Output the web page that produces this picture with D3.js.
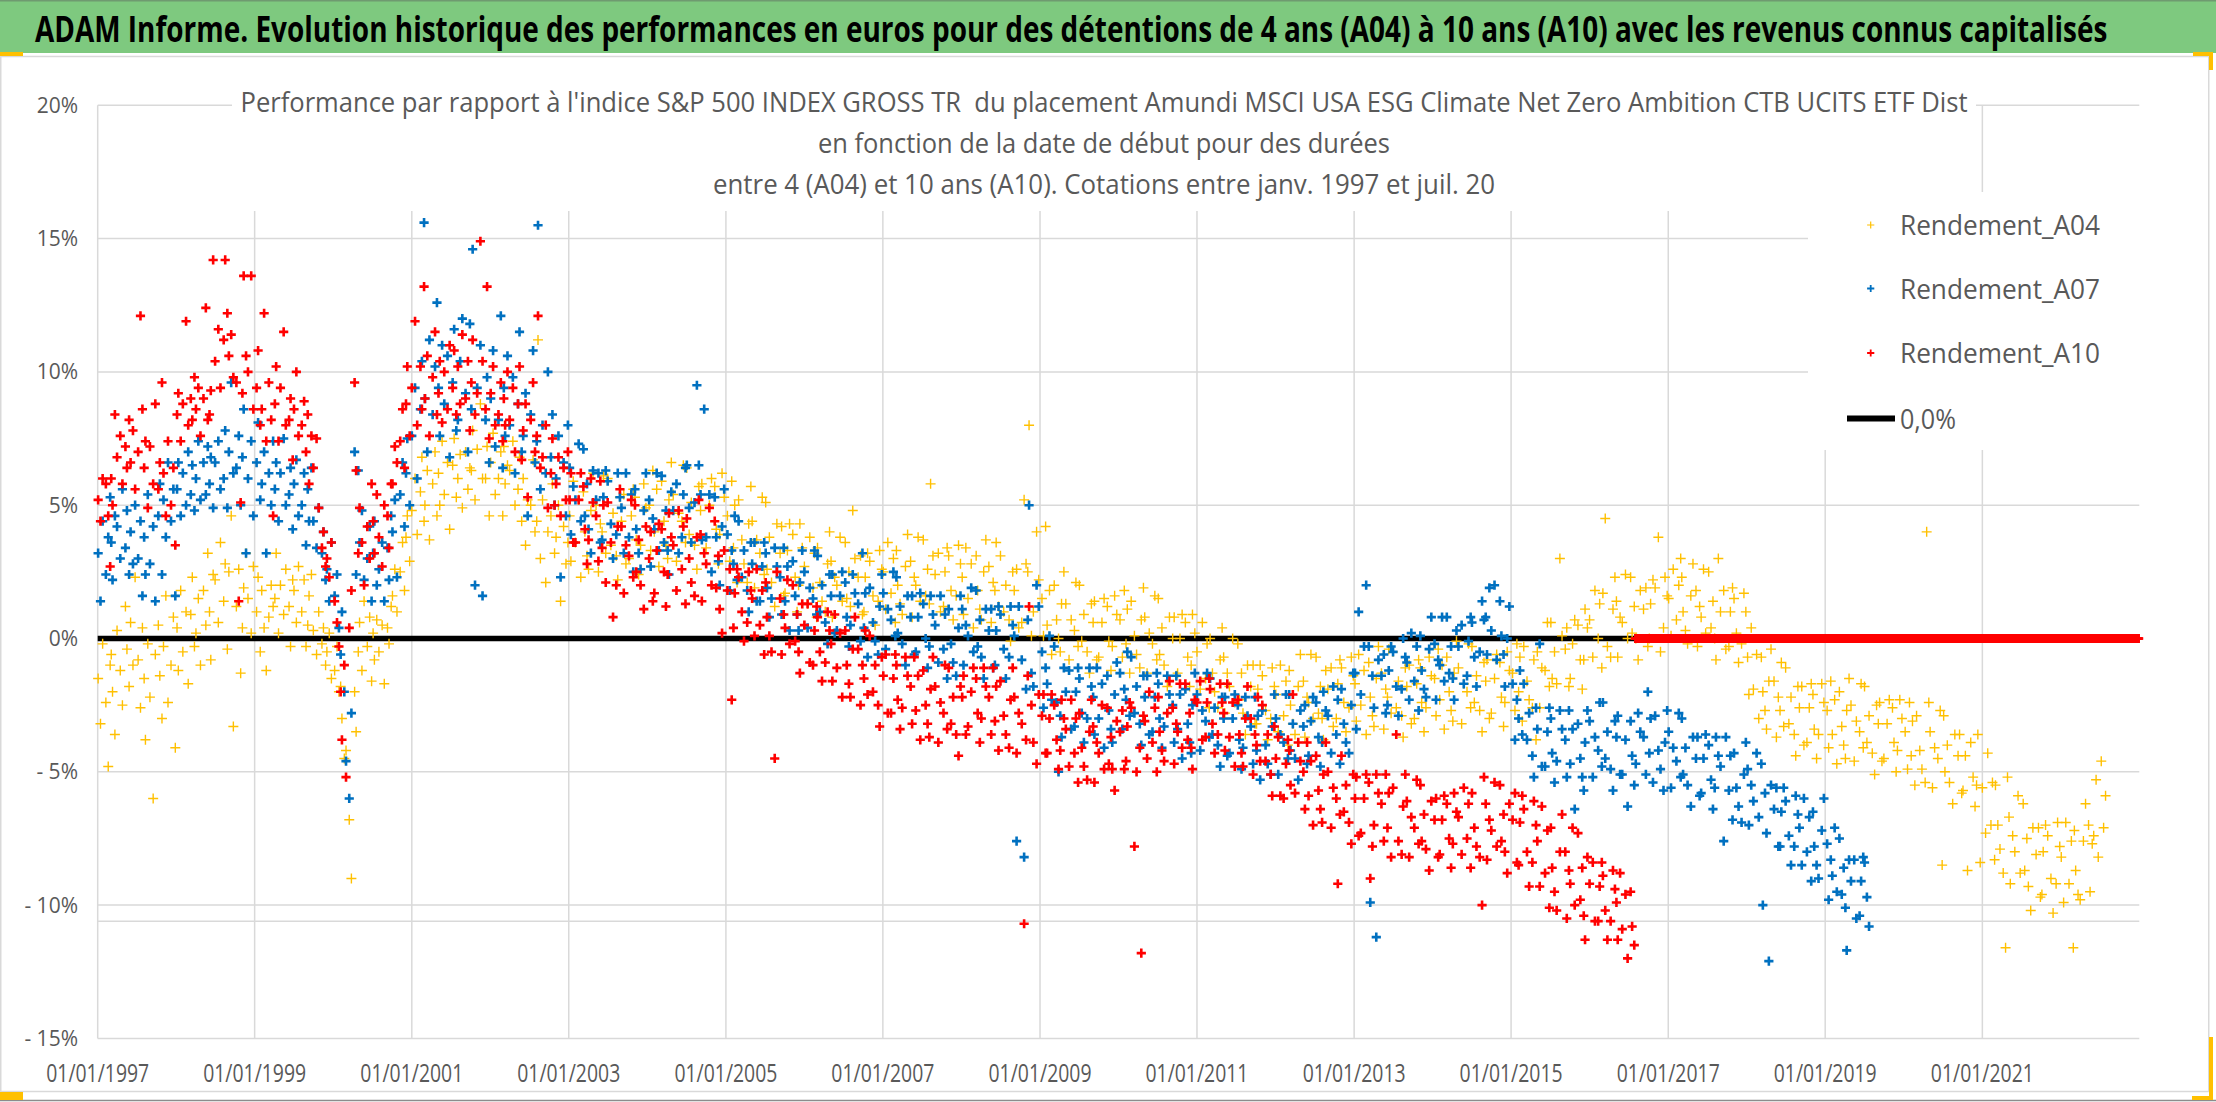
<!DOCTYPE html>
<html><head><meta charset="utf-8">
<script src="https://cdn.jsdelivr.net/npm/d3@7/dist/d3.min.js"></script>
<style>
body{margin:0;background:#fff;}
svg{display:block;}
text{font-family:"Open Sans","Liberation Sans",sans-serif;}
</style></head>
<body><svg id="chart" width="2216" height="1102"></svg>
<script>
// ---------------- DATA ----------------
const titleText = "ADAM Informe. Evolution historique des performances en euros pour des détentions de 4 ans (A04) à 10 ans (A10) avec les revenus connus capitalisés";
const subtitleLines = [
  "Performance par rapport à l'indice S&P 500 INDEX GROSS TR  du placement Amundi MSCI USA ESG Climate Net Zero Ambition CTB UCITS ETF Dist",
  "en fonction de la date de début pour des durées",
  "entre 4 (A04) et 10 ans (A10). Cotations entre janv. 1997 et juil. 20"
];
const seriesNames = ["Rendement_A04", "Rendement_A07", "Rendement_A10"];
const zeroLineName = "0,0%";
const xTickYears = [1997, 1999, 2001, 2003, 2005, 2007, 2009, 2011, 2013, 2015, 2017, 2019, 2021];
const yTickValues = [-15, -10, -5, 0, 5, 10, 15, 20];
const xDomain = ["1997-01-01", "2023-01-01"];
const axisCrossValue = -10.61;
const firstYear = 1997; // every series starts in Jan 1997, three readings per month (%)
const readingDays = [[3, 14, 24], [8, 19, 28], [5, 11, 22], [1, 16, 26], [10, 17, 27]];

const a04 = [
[-1.5,-3.2,-0.2],[-2.4,-4.8,-1.0],[-0.6,-2.0,-3.6],[0.3,-1.2,-2.5],[1.2,-0.4,-1.8],[0.6,-1.0,2.3],[-0.8,-2.6,0.4],[-1.5,-3.8,-0.2],[-2.2,-6.0,-0.6],[0.5,-1.4,-3.0],[-0.3,1.6,-2.4],[-1.0,0.8,-4.1],
[0.4,-1.2,1.8],[-0.5,1.0,-1.7],[0.9,2.3,-0.3],[0.2,1.5,-1.0],[1.8,0.5,3.2],[1.0,-0.8,2.4],[2.2,0.6,3.6],[1.4,2.8,-0.4],[2.5,4.6,-3.3],[1.2,2.6,-1.3],[0.4,1.9,3.2],[1.5,0.2,2.7],
[1.0,2.3,-0.5],[1.8,0.4,-1.2],[0.8,2.0,1.2],[1.5,3.2,0.2],[2.0,0.9,2.6],[1.2,-0.3,2.2],[1.8,0.6,2.7],[1.0,2.2,-0.3],[0.5,1.6,2.4],[0.3,-0.6,1.0],[-0.2,0.4,-1.0],[-0.5,0.2,-1.5],
[-1.2,-0.3,-2.0],[-1.8,-3.0,-4.5],[-4.2,-6.8,-9.0],[-2.0,-3.5,-0.5],[0.6,-1.2,1.4],[-0.3,0.8,-1.6],[0.2,-0.8,0.7],[-0.5,0.5,-1.7],[0.4,-0.2,1.2],[1.6,2.6,1.0],[2.5,3.6,1.8],[3.8,4.6,2.9],
[4.8,6.0,3.9],[5.5,6.8,4.4],[5.0,6.3,3.7],[5.8,7.0,4.6],[6.2,5.0,7.4],[5.4,6.6,4.1],[6.5,7.5,5.3],[6.0,6.9,4.9],[7.0,5.6,6.4],[6.3,7.8,5.2],[7.1,8.8,6.0],[6.0,7.2,4.6],
[6.6,7.7,5.4],[6.0,7.0,4.6],[7.2,5.8,6.5],[6.3,7.4,5.0],[5.6,6.8,4.4],[6.0,3.5,5.2],[5.0,6.7,4.0],[4.4,11.2,3.0],[5.2,2.1,4.0],[4.6,5.8,3.2],[3.8,5.0,1.4],[4.2,2.8,3.6],
[4.6,2.9,5.9],[3.6,5.2,2.3],[5.5,4.0,3.1],[2.6,4.8,6.2],[5.0,2.5,4.3],[4.0,6.1,3.2],[6.0,3.5,4.7],[3.1,2.2,5.3],[4.4,5.4,2.8],[3.0,4.6,5.6],[5.3,3.7,2.4],[3.5,5.8,4.9],
[5.0,3.3,6.3],[4.0,5.6,2.7],[5.9,4.4,3.5],[3.0,5.2,6.6],[5.4,2.9,4.7],[4.4,6.5,3.6],[6.4,3.9,5.1],[3.5,2.6,5.7],[4.8,5.8,3.2],[3.4,5.0,6.0],[5.7,4.1,2.8],[3.9,6.2,5.3],
[4.6,2.9,5.9],[3.4,5.0,2.1],[5.2,3.7,2.8],[2.1,4.3,5.7],[4.4,1.9,3.7],[3.2,5.3,2.4],[5.1,2.6,3.8],[2.1,1.2,4.3],[3.2,4.2,1.6],[1.7,3.3,4.3],[3.9,2.3,1.0],[2.0,4.3,3.4],
[2.7,1.3,3.8],[1.9,3.2,0.8],[3.4,2.1,1.4],[1.0,2.8,4.0],[2.9,0.8,2.3],[2.0,3.8,1.4],[3.6,1.5,2.5],[1.2,4.8,3.0],[2.3,3.1,0.9],[1.0,2.3,3.2],[2.9,1.6,0.5],[1.4,3.3,2.6],
[2.5,1.1,3.6],[1.7,3.0,0.6],[3.3,2.0,1.3],[0.9,2.7,3.9],[2.9,0.8,2.3],[2.0,3.8,1.4],[3.7,1.6,2.6],[1.3,5.8,3.1],[2.4,3.2,1.0],[1.2,2.5,3.4],[3.1,1.8,0.7],[1.6,3.5,2.8],
[2.3,0.9,3.4],[1.5,2.8,0.4],[3.1,1.8,1.1],[0.7,2.5,3.7],[2.7,0.6,2.1],[1.8,3.6,1.2],[3.1,1.0,2.0],[0.7,-0.1,2.5],[1.8,2.6,0.4],[0.6,5.2,2.8],[2.5,8.0,0.1],[1.0,4.0,2.2],
[1.5,0.1,4.2],[0.5,1.8,-0.6],[2.0,0.7,0.0],[-0.5,1.3,2.5],[1.3,-0.8,0.7],[0.3,2.1,-0.3],[2.0,-0.1,0.9],[-0.5,-1.3,1.3],[0.6,1.4,-0.8],[-0.7,0.6,1.5],[1.2,-0.1,-1.2],[-0.3,1.6,0.9],
[0.7,-0.7,1.8],[-0.2,1.1,-1.3],[1.4,0.1,-0.6],[-1.1,0.7,1.9],[0.8,-1.3,0.2],[-0.2,1.6,-0.8],[1.5,-0.6,0.4],[-1.0,-1.8,0.8],[0.0,0.8,-1.4],[-1.3,0.0,0.9],[0.6,-0.7,-1.8],[-1.0,0.9,0.2],
[-0.5,-1.9,0.6],[-1.5,-0.2,-2.6],[0.0,-1.3,-2.0],[-2.6,-0.8,0.4],[-0.7,-2.8,-1.3],[-1.8,0.0,-2.4],[-0.2,-2.3,-1.3],[-2.8,-3.6,-1.0],[-1.8,-1.0,-3.2],[-3.2,-1.9,-1.0],[-1.4,-2.7,-3.8],[-3.0,-1.1,-1.8],
[-2.1,-3.5,-1.0],[-2.9,-1.6,-4.0],[-1.2,-2.5,-3.2],[-3.6,-1.8,-0.6],[-1.6,-3.7,-2.2],[-2.4,-0.6,-3.0],[-0.7,-2.8,-1.8],[-3.0,-3.8,-1.2],[-1.9,-1.1,-3.3],[-3.0,-1.7,-0.8],[-1.1,-2.4,-3.5],[-2.6,-0.7,-1.4],
[-1.7,-3.1,-0.6],[-2.5,-1.2,-3.6],[-0.9,-2.2,-2.9],[-3.3,-1.5,-0.3],[-1.3,-3.4,-1.9],[-2.2,-0.4,-2.8],[-0.5,-2.6,-1.6],[-2.9,-3.7,-1.1],[-1.8,-1.0,-3.2],[-3.0,-1.7,-0.8],[-1.1,-2.4,-3.5],[-2.6,-0.7,-1.4],
[-1.5,-2.9,-0.4],[-2.3,-1.0,-3.4],[-0.7,-2.0,-2.7],[-3.1,-1.3,-0.1],[-1.1,-3.2,-1.7],[-2.0,-0.2,-2.6],[-0.3,-2.4,-1.4],[-2.7,-3.5,-0.9],[-1.6,-0.8,-3.0],[-2.8,-1.5,-0.6],[-0.9,-2.2,-3.3],[-2.4,-0.5,-1.2],
[-1.3,-2.7,-0.2],[-2.0,-0.7,-3.1],[-0.3,-1.6,-2.3],[-2.6,-0.8,-3.8],[-0.5,-2.6,-1.1],[-1.2,0.6,-1.8],[0.6,-1.5,-0.5],[-1.7,3.0,0.1],[-0.4,0.4,-1.8],[-1.5,-0.2,0.7],[0.5,-0.8,-1.9],[-0.8,1.1,0.4],
[0.7,-0.7,1.8],[0.0,1.3,-1.1],[1.7,4.5,-0.3],[-0.7,1.1,2.3],[1.4,-0.7,0.8],[0.6,2.4,0.0],[2.3,0.2,1.2],[0.0,-0.8,1.8],[1.1,1.9,-0.3],[0.0,1.3,2.2],[1.9,3.8,-0.5],[0.4,2.3,1.6],
[1.5,0.1,2.6],[0.7,2.0,3.0],[2.3,1.0,0.3],[-0.2,1.6,2.8],[1.8,-0.3,1.2],[0.8,2.6,0.2],[2.5,0.4,1.4],[0.0,-0.8,3.0],[1.0,1.8,-0.4],[-0.3,1.0,1.9],[1.5,0.2,-0.9],[-0.2,1.7,1.0],
[-0.7,-2.1,0.4],[-1.9,-0.6,-3.0],[-0.7,-2.0,-2.7],[-3.4,-1.6,-0.4],[-1.6,-3.7,-2.2],[-2.7,-0.9,-3.3],[-1.1,-3.2,-2.2],[-3.6,-4.4,-1.8],[-2.6,-1.8,-4.0],[-3.9,-2.6,-1.7],[-2.1,-3.4,-4.5],[-3.6,-1.7,-2.4],
[-2.7,-4.1,-1.6],[-3.6,-2.3,-4.7],[-2.0,-3.3,-4.0],[-4.5,-2.7,-1.5],[-2.5,-4.6,-3.1],[-3.5,-1.7,-4.1],[-1.8,-3.9,-2.9],[-4.3,-5.1,-2.5],[-3.2,-2.4,-4.6],[-4.5,-3.2,-2.3],[-2.6,-3.9,-5.0],[-4.2,-2.3,-3.0],
[-3.5,-4.9,-2.4],[-4.4,-3.1,-5.5],[-2.9,-4.2,-4.9],[-5.4,4.0,-2.4],[-3.5,-5.6,-4.1],[-4.5,-2.7,-8.5],[-2.9,-5.0,-4.0],[-5.4,-6.2,-3.6],[-4.4,-3.6,-5.8],[-5.7,-4.4,-8.7],[-3.9,-5.2,-6.3],[-5.5,-3.6,-8.4],
[-5.6,-7.3,-4.3],[-7.0,-5.4,-8.3],[-5.5,-7.0,-7.9],[-8.8,-11.6,-5.2],[-6.7,-9.2,-7.4],[-8.0,-5.9,-8.8],[-6.2,-8.7,-7.5],[-9.3,-10.2,-7.1],[-8.1,-7.1,-9.7],[-9.6,-8.0,-7.0],[-7.4,-9.0,-10.3],[-9.2,-6.9,-7.8],
[-8.2,-9.9,-6.9],[-9.2,-7.6,-11.6],[-7.2,-8.7,-9.6],[-9.8,-7.6,-6.2],[-7.0,-9.5,-7.7],[-7.4,-5.3,-8.2],[-4.6,-7.1,-5.9]
];

const a07 = [
[3.2,1.4,4.4],[2.4,3.8,5.3],[3.6,2.2,4.6],[4.2,3.0,5.6],[3.4,4.8,2.4],[4.0,2.8,5.0],[3.0,4.4,1.6],[3.8,2.4,5.4],[2.8,4.2,1.4],[4.6,5.8,2.4],[5.2,3.8,6.6],[4.4,5.6,1.6],
[5.6,6.6,4.6],[6.2,5.0,7.0],[5.4,6.5,4.8],[6.0,7.4,5.2],[6.6,5.4,7.2],[5.8,6.8,4.9],[6.6,7.4,5.6],[6.0,7.8,4.9],[7.0,9.6,6.2],[6.4,7.6,5.0],[6.8,8.6,3.2],[6.0,7.4,4.6],
[6.6,8.1,5.2],[5.8,7.0,3.2],[6.2,5.0,7.4],[5.6,6.6,4.4],[6.2,7.5,5.0],[5.4,6.4,4.1],[5.8,6.7,4.6],[5.0,6.2,3.5],[5.6,4.4,6.4],[4.4,3.4,4.9],[3.2,4.0,2.2],[2.6,1.4,3.6],
[1.6,2.4,0.4],[-0.6,1.0,-2.0],[-4.6,-6.0,-2.8],[7.0,2.4,6.3],[3.6,4.8,2.2],[3.0,4.2,1.4],[3.2,4.4,2.0],[2.6,3.6,1.4],[3.4,2.2,4.6],[4.0,5.2,2.3],[5.4,6.6,4.2],[6.2,7.5,5.0],
[7.6,9.4,6.0],[8.6,10.4,15.6],[9.0,7.0,11.2],[8.4,10.2,12.6],[9.4,7.6,11.0],[8.8,10.6,6.8],[9.6,11.6,7.8],[8.2,10.4,12.0],[9.2,7.0,11.8],[8.6,14.6,2.0],[9.4,11.0,1.6],[8.2,9.8,6.6],
[9.0,10.8,7.2],[8.2,12.1,6.4],[9.4,7.6,10.6],[8.0,9.8,6.2],[8.8,11.5,7.0],[7.6,9.2,4.6],[8.4,10.8,6.6],[7.4,15.5,5.6],[8.0,6.2,10.0],[6.8,8.4,5.0],[6.0,7.6,2.3],[6.6,4.6,8.0],
[6.4,3.9,5.7],[5.2,7.3,4.4],[7.1,4.6,5.8],[4.1,3.2,6.3],[5.2,6.2,3.6],[3.7,5.3,6.3],[5.9,4.3,3.0],[3.9,6.2,5.3],[4.9,3.2,6.2],[3.8,5.4,2.5],[5.6,4.1,3.2],[2.6,4.8,6.2],
[5.2,2.7,4.5],[4.1,6.2,3.3],[6.1,3.6,4.8],[3.3,2.4,5.5],[4.8,5.8,3.2],[3.8,5.4,6.4],[6.5,4.9,3.6],[5.1,9.5,6.5],[5.4,3.7,8.6],[3.8,5.4,2.5],[5.3,3.8,2.9],[2.0,4.2,5.6],
[3.9,1.8,3.3],[2.8,4.6,2.2],[4.4,2.3,3.3],[1.8,1.0,3.6],[2.8,3.6,1.4],[1.4,2.7,3.6],[3.2,1.9,0.8],[1.5,3.4,2.7],[2.3,0.9,3.4],[1.4,2.7,0.3],[2.9,1.6,0.9],[0.3,2.1,3.3],
[2.5,0.4,1.9],[1.5,3.3,0.9],[3.1,1.0,2.0],[0.6,-0.2,2.4],[1.6,2.4,0.2],[0.3,1.6,2.5],[2.1,0.8,-0.3],[0.5,2.4,1.7],[1.3,-0.1,3.2],[0.4,1.7,-0.7],[1.9,0.6,-0.1],[-0.6,1.2,2.4],
[1.7,-0.4,1.1],[0.7,2.5,0.1],[2.3,0.2,1.2],[-0.2,-1.0,1.6],[0.8,1.6,-0.6],[-0.5,0.8,1.7],[1.3,0.0,-1.1],[-0.3,1.6,0.9],[0.5,-0.9,1.6],[-0.4,0.9,-1.5],[1.1,-0.2,-0.9],[-1.4,0.4,1.6],
[1.1,-1.0,0.5],[0.1,1.9,-0.5],[1.8,-0.3,0.7],[-0.7,-1.5,1.1],[0.3,1.1,-1.1],[-1.0,0.3,1.2],[0.9,-0.4,-1.5],[-0.7,1.2,0.5],[0.1,-7.6,1.2],[-0.8,-8.2,-1.9],[0.7,5.0,-1.3],[-1.8,2.0,1.2],
[-0.5,-2.6,-1.1],[-1.7,0.1,-2.3],[-0.3,-2.4,-5.0],[-2.9,-3.7,-1.1],[-2.0,-1.2,-3.4],[-3.3,-2.0,-1.1],[-1.5,-2.8,-3.9],[-3.0,-1.1,-1.8],[-2.2,-3.6,-1.1],[-3.0,-1.7,-4.1],[-1.4,-2.7,-3.4],[-3.9,-2.1,-0.9],
[-1.3,-3.4,-1.9],[-2.3,-0.5,-2.9],[-0.7,-2.8,-1.8],[-3.2,-4.0,-1.4],[-2.2,-1.4,-3.6],[-3.5,-2.2,-1.3],[-1.7,-3.0,-4.1],[-3.3,-1.4,-2.1],[-2.5,-3.9,-1.4],[-3.4,-2.1,-4.5],[-1.9,-3.2,-3.9],[-4.3,-2.5,-1.3],
[-2.1,-4.2,-2.7],[-3.1,-1.3,-3.7],[-1.5,-3.6,-2.6],[-4.0,-4.8,-2.2],[-3.0,-2.2,-4.4],[-4.3,-3.0,-2.1],[-2.5,-3.8,-4.9],[-4.1,-2.2,-2.9],[-3.3,-4.7,-2.2],[-4.2,-2.9,-5.3],[-2.7,-4.0,-4.7],[-5.1,-3.3,-2.1],
[-3.0,-5.1,-3.6],[-3.9,-2.1,-4.5],[-2.1,-4.2,-3.2],[-4.5,-5.3,-2.7],[-3.3,-2.5,-4.7],[-4.4,-3.1,-2.2],[-2.4,-3.7,-4.8],[-3.9,-2.0,-2.7],[-2.9,-4.3,-1.8],[-3.6,-2.3,-4.7],[-1.9,-3.2,-3.9],[-4.3,-2.5,-1.3],
[-1.3,-3.4,1.0],[-2.1,-0.3,2.0],[-0.3,-9.9,-1.4],[-2.6,-11.2,-0.8],[-1.4,-0.6,-2.8],[-2.5,-1.2,-0.3],[-0.5,-1.8,-2.9],[-1.9,0.0,-0.7],[-0.9,-2.3,0.2],[-1.6,-0.3,-2.7],[0.1,-1.2,-1.9],[-2.2,-0.4,0.8],
[-0.2,-2.3,-0.8],[-1.0,0.8,-1.6],[0.8,-1.3,-0.3],[-1.5,-2.3,0.3],[-0.3,0.5,-1.7],[-1.4,-0.1,0.8],[0.6,-0.7,-1.8],[-0.5,1.4,0.7],[0.8,-0.6,1.9],[0.3,2.0,-0.8],[1.4,0.1,-0.6],[-1.8,0.0,1.2],
[-1.7,-3.8,-2.3],[-3.0,-1.2,-3.6],[-1.7,-3.8,-2.8],[-4.4,-5.2,-2.6],[-3.4,-0.2,-4.8],[-4.8,-3.5,-2.6],[-3.0,-4.3,-5.4],[-4.6,-2.7,-3.4],[-3.8,-5.2,-2.7],[-4.7,-3.4,-6.4],[-3.2,-4.5,-5.2],[-5.7,-3.9,-2.7],
[-3.1,-5.2,-3.7],[-4.2,-2.4,-4.8],[-2.4,-4.5,-3.5],[-4.9,-5.7,-3.1],[-3.7,-2.9,-5.1],[-5.1,-3.8,-6.3],[-3.1,-4.4,-5.5],[-4.7,-2.8,-3.5],[-3.7,-5.1,-2.0],[-4.3,-3.0,-5.4],[-2.9,-4.2,-4.9],[-5.7,-3.9,-2.7],
[-3.5,-5.6,-4.1],[-4.6,-2.8,-5.2],[-3.0,-5.1,-4.1],[-5.5,-6.3,-3.7],[-4.5,-3.7,-5.9],[-5.8,-4.5,-3.6],[-4.0,-5.3,-6.4],[-5.6,-3.7,-4.4],[-4.8,-7.6,-3.7],[-5.7,-4.4,-6.8],[-4.3,-5.6,-6.3],[-6.9,-5.1,-3.9],
[-4.9,-7.0,-5.5],[-6.1,-4.3,-6.7],[-4.7,-10.0,-5.8],[-7.3,-12.1,-5.5],[-6.4,-5.6,-7.8],[-7.8,-6.5,-5.6],[-6.1,-7.4,-8.5],[-7.8,-5.9,-6.6],[-7.1,-8.5,-6.0],[-8.0,-6.7,-9.1],[-6.5,-7.8,-8.5],[-9.0,-7.2,-6.0],
[-7.7,-9.8,-8.3],[-8.9,-7.1,-9.5],[-7.5,-9.6,-8.6],[-10.1,-11.7,-8.3],[-9.1,-8.3,-10.5],[-10.4,-9.1,-8.2],[-8.4,-9.7,-10.8]
];

const a10 = [
[5.2,4.4,6.0],[5.8,4.6,2.7],[6.0,5.0,8.4],[6.8,7.6,5.8],[7.2,6.4,8.2],[6.6,7.8,5.6],[7.0,12.1,8.6],[6.4,7.4,4.9],[7.2,5.8,8.8],[5.6,6.6,9.6],[6.2,4.6,7.4],[5.0,6.4,3.5],
[8.4,9.2,7.4],[8.8,11.9,8.0],[9.0,8.2,9.8],[8.6,9.4,7.6],[9.0,12.4,8.2],[8.4,9.3,14.2],[10.4,11.6,9.4],[11.2,14.2,12.2],[10.6,11.4,9.8],[9.6,1.4,5.1],[9.2,13.6,10.6],[10.0,13.6,8.6],
[9.4,10.8,8.0],[8.6,12.2,7.4],[9.6,8.2,4.6],[8.8,10.2,7.4],[9.4,11.5,8.0],[8.2,9.0,6.7],[8.6,10.0,7.6],[8.0,8.9,7.0],[8.4,5.8,7.6],[6.4,7.5,4.9],[3.4,4.0,2.7],[3.0,2.3,3.6],
[1.4,0.6,-0.3],[-2.0,-3.8,-1.0],[-5.2,0.4,1.8],[9.6,6.3,3.2],[4.9,3.6,2.0],[4.2,3.0,5.8],[4.4,3.2,5.4],[3.8,2.7,5.0],[4.6,3.4,5.8],[5.8,7.2,6.6],[7.4,8.6,6.4],[8.8,10.2,7.6],
[9.4,11.9,8.0],[10.2,8.6,13.2],[9.0,10.6,7.6],[9.8,11.5,8.4],[9.2,10.4,8.1],[10.0,8.6,11.0],[9.4,10.8,8.4],[10.2,8.8,11.4],[9.0,10.4,7.8],[9.6,11.2,8.4],[9.2,14.9,10.4],[8.6,13.2,7.5],
[9.2,10.2,8.0],[8.4,9.6,7.4],[9.0,8.0,10.0],[8.2,9.4,7.0],[8.8,10.2,6.7],[7.8,8.8,5.3],[8.2,9.6,7.0],[7.6,12.1,6.4],[6.8,8.0,4.9],[6.2,7.5,5.0],[5.8,6.8,4.6],[6.4,5.2,7.0],
[5.2,6.2,3.6],[3.6,5.2,6.2],[5.7,4.1,2.8],[3.7,6.0,5.1],[4.6,2.9,5.9],[3.4,5.0,2.1],[5.1,3.6,0.8],[2.0,4.2,5.6],[4.2,1.7,3.5],[3.1,5.2,2.3],[5.0,2.5,3.7],[2.0,1.1,4.2],
[3.0,4.0,1.4],[1.7,3.3,4.3],[4.1,2.5,1.2],[2.4,4.7,3.8],[3.5,1.8,4.8],[2.6,4.2,1.3],[4.5,3.0,2.1],[1.6,3.8,5.2],[3.9,1.4,3.2],[2.8,4.9,2.0],[4.4,1.9,3.1],[1.1,0.2,3.3],
[1.8,2.6,-2.3],[0.4,1.7,2.6],[2.3,1.0,-0.1],[0.6,2.5,1.8],[1.5,0.1,2.6],[0.5,1.8,-0.6],[2.1,0.8,0.1],[-0.5,-4.5,2.5],[1.5,-0.6,0.9],[0.4,2.2,-0.2],[2.0,-0.1,0.9],[-0.5,-1.3,1.3],
[0.5,1.3,-0.9],[-1.0,0.3,1.2],[0.8,-0.5,-1.6],[-0.9,1.0,0.3],[-0.2,-1.6,0.9],[-1.1,0.2,-2.2],[0.3,-1.0,-1.7],[-2.2,-0.4,0.8],[-0.4,-2.5,-1.0],[-1.5,0.3,-2.1],[0.1,-2.0,-1.0],[-2.5,-3.3,-0.7],
[-1.4,-0.6,-2.8],[-2.8,-1.5,-0.6],[-1.0,-2.3,-3.4],[-2.6,-0.7,-1.4],[-1.8,-3.2,-0.7],[-2.7,-1.4,-3.8],[-1.2,-2.5,-3.2],[-3.7,-1.9,-0.7],[-1.8,-3.9,-2.4],[-2.8,-1.0,-3.4],[-1.1,-3.2,-2.2],[-3.6,-4.4,-1.8],
[-2.2,-1.4,-3.6],[-3.3,-2.0,-1.1],[-1.5,-2.8,-3.9],[-3.0,-1.1,-1.8],[-2.2,-3.6,-1.1],[-3.1,-1.8,-4.2],[-1.6,-2.9,-3.6],[-4.1,-2.3,-1.1],[-2.2,-4.3,-2.8],[-3.2,-10.7,-3.8],[-1.4,1.2,-2.5],[-3.9,-4.7,-2.1],
[-2.9,-2.1,-4.3],[-4.3,-3.0,-2.1],[-2.5,-3.8,-4.9],[-4.2,-2.3,-3.0],[-3.4,-4.8,-2.3],[-4.3,-3.0,-5.4],[-2.8,-4.1,-4.8],[-5.3,-3.5,-2.3],[-3.3,-5.4,-3.9],[-4.3,-2.5,-4.9],[-2.6,-4.7,-3.7],[-4.9,-5.7,-3.1],
[-3.5,-2.7,-4.9],[-4.6,-3.3,-2.4],[-2.6,-7.8,-5.0],[-4.1,-11.8,-2.9],[-3.1,-4.5,-2.0],[-3.9,-2.6,-5.0],[-2.2,-3.5,-4.2],[-4.6,-2.8,-1.6],[-2.6,-4.7,-3.2],[-3.5,-1.7,-4.1],[-1.7,-3.8,-2.8],[-4.1,-4.9,-2.3],
[-2.4,-1.6,-3.8],[-3.7,-2.4,-1.5],[-1.9,-3.2,-4.3],[-3.6,-1.7,-2.4],[-2.8,-4.2,-1.7],[-3.7,-2.4,-4.8],[-2.3,-3.6,-4.3],[-4.8,-3.0,-1.8],[-3.0,-5.1,-3.6],[-4.0,-2.2,-4.6],[-2.5,-4.6,-3.6],[-5.1,-5.9,-3.3],
[-4.5,-3.7,-5.9],[-6.0,-4.7,-3.8],[-4.2,-5.5,-2.1],[-5.8,-3.9,-4.6],[-5.0,-6.4,-3.9],[-5.9,-4.6,-7.0],[-4.4,-5.7,-6.4],[-6.9,-5.1,-3.9],[-5.0,-7.1,-5.6],[-6.0,-9.2,-6.6],[-4.4,-6.5,-5.5],[-6.9,-7.7,-5.1],
[-6.0,-5.2,-7.4],[-7.3,-6.0,-5.1],[-5.4,-9.0,-7.8],[-7.0,-5.1,-5.8],[-6.2,-7.6,-5.1],[-7.1,-5.8,-8.2],[-5.6,-3.6,-7.6],[-8.1,-6.3,-5.1],[-6.1,-8.2,-6.7],[-7.1,-5.3,-7.7],[-5.5,-7.6,-6.6],[-7.9,-8.7,-6.1],
[-6.8,-6.0,-8.2],[-8.1,-6.8,-5.9],[-6.2,-7.5,-8.6],[-7.7,-5.8,-6.5],[-6.7,-8.1,-5.6],[-7.5,-6.2,-8.6],[-5.8,-7.1,-7.8],[-8.2,-10.0,-5.2],[-6.2,-8.3,-6.8],[-7.2,-5.4,-7.8],[-5.5,-7.6,-6.6],[-8.0,-8.8,-6.2],
[-6.8,-5.8,-8.4],[-8.5,-6.9,-5.9],[-6.4,-8.0,-9.3],[-8.4,-6.1,-7.0],[-7.6,-9.3,-6.3],[-8.8,-7.2,-10.1],[-7.1,-8.6,-9.5],[-10.2,-8.0,-6.6],[-8.0,-10.5,-8.7],[-9.2,-7.1,-10.0],[-7.3,-9.8,-8.6],[-10.4,-11.3,-8.2],
[-9.2,-8.4,-10.6],[-10.6,-9.3,-8.4],[-8.9,-10.2,-11.3],[-10.6,-8.7,-9.4],[-9.9,-11.3,-8.8],[-10.9,-9.6,-12.0],[-9.5,-10.8,-11.5]
];
// A10 has no value after its last start date; the spreadsheet plots those empty cells at 0
const a10EmptyFrom = "2016-08-01";
const a10EmptyTo = "2022-12-31";

// ---------------- DRAWING ----------------
const svg = d3.select("#chart");
const W = 2216, H = 1102;
const grey = "#595959", gridC = "#d9d9d9";
const colors = ["#FFC000", "#0070C0", "#FF0000"];

const x = d3.scaleTime().domain(xDomain.map(d => new Date(d + "T00:00:00"))).range([97.7, 2139.3]);
const y = d3.scaleLinear().domain([-15, 20]).range([1038.4, 105.3]);

function expand(months) {
  const pts = [];
  months.forEach((vals, i) => {
    const yr = firstYear + Math.floor(i / 12), m = i % 12;
    const days = readingDays[i % readingDays.length];
    vals.forEach((v, k) => pts.push({ date: new Date(yr, m, days[k]), value: v }));
  });
  return pts;
}
const series = [expand(a04), expand(a07), expand(a10)];
d3.timeDay.every(2).range(new Date(a10EmptyFrom + "T00:00:00"), new Date(a10EmptyTo + "T00:00:00"))
  .forEach(d => series[2].push({ date: d, value: 0 }));

// background & frame
svg.append("rect").attr("x", 0).attr("y", 0).attr("width", W).attr("height", H).attr("fill", "#fff");
svg.append("rect").attr("x", 0.75).attr("y", 56.5).attr("width", 2208).attr("height", 1035)
  .attr("fill", "#fff").attr("stroke", gridC).attr("stroke-width", 1.5);
svg.append("line").attr("x1", 0).attr("x2", W).attr("y1", 1100.5).attr("y2", 1100.5).attr("stroke", "#8c8c8c").attr("stroke-width", 1.5);

// banner
svg.append("rect").attr("x", 0).attr("y", 0).attr("width", W).attr("height", 53).attr("fill", "#7ec97f");
svg.append("line").attr("x1", 0).attr("x2", W).attr("y1", 0.75).attr("y2", 0.75).attr("stroke", "#6f9a70").attr("stroke-width", 1.5);
const tt = svg.append("text").attr("x", 0).attr("y", 0).attr("font-size", 36).attr("font-weight", 700).attr("fill", "#000").text(titleText);
const natural = tt.node().getComputedTextLength();
tt.attr("transform", `translate(35,42) scale(${(2073 / natural).toFixed(4)},1)`);

// selection handles (orange)
const handle = "#FFC000";
[[0, 52, 23, 4], [0, 1092, 23, 8], [2193, 52, 20, 4], [2209, 52, 4, 18], [2192, 1096, 21, 4], [2209, 1037, 4, 63]]
  .forEach(r => svg.append("rect").attr("x", r[0]).attr("y", r[1]).attr("width", r[2]).attr("height", r[3]).attr("fill", handle));

// gridlines
const g = svg.append("g");
yTickValues.forEach(v => g.append("line").attr("x1", x.range()[0]).attr("x2", x.range()[1])
  .attr("y1", y(v)).attr("y2", y(v)).attr("stroke", gridC).attr("stroke-width", 1.5));
xTickYears.forEach(yr => {
  const xx = x(new Date(yr, 0, 1));
  g.append("line").attr("x1", xx).attr("x2", xx).attr("y1", y(20)).attr("y2", y(-15))
    .attr("stroke", gridC).attr("stroke-width", 1.5);
});
g.append("line").attr("x1", x.range()[0]).attr("x2", x.range()[1]).attr("y1", y(axisCrossValue)).attr("y2", y(axisCrossValue))
  .attr("stroke", gridC).attr("stroke-width", 1.5);

// axis labels
yTickValues.forEach(v => {
  svg.append("text").attr("x", 78).attr("y", y(v) + 7.5).attr("text-anchor", "end").attr("font-size", 21)
    .attr("fill", grey).text(v < 0 ? "- " + Math.abs(v) + "%" : v + "%");
});
const fmt = d3.timeFormat("%d/%m/%Y");
xTickYears.forEach(yr => {
  const d = new Date(yr, 0, 1);
  svg.append("text").attr("x", x(d)).attr("y", 1081.7).attr("text-anchor", "middle").attr("font-size", 25)
    .attr("fill", grey).attr("textLength", 103).attr("lengthAdjust", "spacingAndGlyphs").text(fmt(d));
});

// title box (white) with subtitle
svg.append("rect").attr("x", 232).attr("y", 60).attr("width", 1744).attr("height", 151).attr("fill", "#fff");
const subLens = [1727, 572, 782];
const subBase = [112, 153, 194];
subtitleLines.forEach((t, i) => {
  svg.append("text").attr("x", 1104).attr("y", subBase[i]).attr("text-anchor", "middle").attr("font-size", 28)
    .attr("font-weight", 500).attr("fill", grey).style("white-space", "pre")
    .attr("textLength", subLens[i]).attr("lengthAdjust", "spacingAndGlyphs").text(t);
});

// legend box
svg.append("rect").attr("x", 1808).attr("y", 192).attr("width", 337).attr("height", 258).attr("fill", "#fff");

// zero line
svg.append("line").attr("x1", x.range()[0]).attr("x2", x.range()[1]).attr("y1", y(0)).attr("y2", y(0))
  .attr("stroke", "#000").attr("stroke-width", 5.5);

// markers
function plus(s) { return `M${-s},0H${s}M0,${-s}V${s}`; }
const mk = [{ s: 5, w: 1.4 }, { s: 4.6, w: 2.6 }, { s: 4.6, w: 2.6 }];
series.forEach((pts, si) => {
  svg.append("g").selectAll("path").data(pts).join("path")
    .attr("d", plus(mk[si].s))
    .attr("transform", d => `translate(${x(d.date).toFixed(2)},${y(d.value).toFixed(2)})`)
    .attr("stroke", colors[si]).attr("stroke-width", mk[si].w).attr("fill", "none");
});

// legend
const legY = [225, 288.5, 353, 418.5];
seriesNames.forEach((n, i) => {
  svg.append("path").attr("d", plus(3.6)).attr("transform", `translate(1870.7,${legY[i]})`)
    .attr("stroke", colors[i]).attr("stroke-width", i === 0 ? 1.2 : 1.8).attr("fill", "none");
  svg.append("text").attr("x", 1900).attr("y", legY[i] + 10).attr("font-size", 28).attr("fill", grey)
    .attr("font-weight", 500).attr("textLength", 200).attr("lengthAdjust", "spacingAndGlyphs").text(n);
});
svg.append("line").attr("x1", 1847).attr("x2", 1895).attr("y1", legY[3]).attr("y2", legY[3]).attr("stroke", "#000").attr("stroke-width", 6);
svg.append("text").attr("x", 1900).attr("y", legY[3] + 10).attr("font-size", 28).attr("fill", grey)
  .attr("font-weight", 500).attr("textLength", 56).attr("lengthAdjust", "spacingAndGlyphs").text(zeroLineName);
</script>
</body></html>
